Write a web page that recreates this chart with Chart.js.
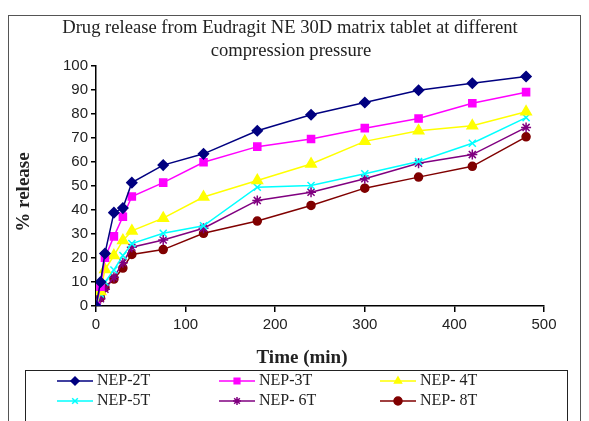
<!DOCTYPE html>
<html>
<head>
<meta charset="utf-8">
<script src="https://cdn.jsdelivr.net/npm/chart.js@4/dist/chart.umd.min.js"></script>
<style>
  html, body { margin: 0; padding: 0; background: #fff; }
  #wrap { width: 589px; height: 421px; position: relative; }
</style>
</head>
<body>
<div id="wrap"><canvas id="chart" width="589" height="421"></canvas></div>
<script>
// sampling times (min)
const times = [0, 5, 10, 20, 30, 40, 75, 120, 180, 240, 300, 360, 420, 480];

// % release per formulation
const nep2T = [0, 10, 21.9, 38.9, 40.8, 51.4, 58.7, 63.4, 73, 79.7, 84.8, 89.9, 92.8, 95.6];
const nep3T = [0, 8, 20.1, 29, 37.2, 45.6, 51.4, 59.9, 66.4, 69.6, 74.1, 78.1, 84.5, 89.1];
const nep4T = [0, 6, 15.2, 21, 27.3, 31.3, 36.6, 45.4, 52.3, 59.2, 68.6, 73, 75.1, 80.9];
const nep5T = [0, 5, 10, 15, 21, 26, 30.3, 33.4, 49.5, 50.2, 55.1, 60.2, 67.8, 78.5];
const nep6T = [0, 3, 7, 12, 18, 24.5, 27.5, 32.4, 44, 47.4, 53, 59.5, 63.1, 74.4];
const nep8T = [0, 3.5, 7.8, 11.2, 15.8, 21.5, 23.5, 30.3, 35.4, 41.9, 49.1, 53.7, 58.2, 70.5];

const seriesNames = ['NEP-2T', 'NEP-3T', 'NEP- 4T', 'NEP-5T', 'NEP- 6T', 'NEP- 8T'];
const yTicks = [0, 10, 20, 30, 40, 50, 60, 70, 80, 90, 100];
const xTicks = [0, 100, 200, 300, 400, 500];

const serif = '"Liberation Serif", "Times New Roman", serif';
const sans = '"Liberation Sans", Arial, sans-serif';

const styles = [
    { color: '#000080', point: 'rectRot', radius: 5 },
    { color: '#ff00ff', point: 'rect', radius: 5 },
    { color: '#ffff00', point: 'triangle', radius: 6 },
    { color: '#00ffff', point: 'crossRot', radius: 5 },
    { color: '#800080', point: 'star', radius: 5 },
    { color: '#800000', point: 'circle', radius: 4 },
];

const allSeries = [nep2T, nep3T, nep4T, nep5T, nep6T, nep8T];

const datasets = allSeries.map((values, i) => ({
    label: seriesNames[i],
    data: values.map((v, j) => ({ x: times[j], y: v })),
    borderColor: styles[i].color,
    backgroundColor: styles[i].color,
    borderWidth: 1.5,
    pointStyle: styles[i].point,
    pointRadius: styles[i].radius,
    pointBorderWidth: 1.5,
    tension: 0,
    fill: false,
}));

// frame, titles and legend drawn by hand
const decorPlugin = {
    id: 'decor',
    afterDraw(chart) {
        const ctx = chart.ctx;
        ctx.save();
        ctx.strokeStyle = '#555';
        ctx.lineWidth = 1;
        ctx.strokeRect(8.5, 15.5, 572, 420);

        ctx.fillStyle = '#222';
        ctx.font = '18.6px ' + serif;
        ctx.textAlign = 'center';
        ctx.textBaseline = 'middle';
        ctx.fillText('Drug release from Eudragit NE 30D matrix tablet at different', 290, 28);
        ctx.fillText('compression pressure', 291, 51);

        ctx.font = 'bold 19px ' + serif;
        ctx.fillText('Time (min)', 302, 358);

        ctx.save();
        ctx.translate(24, 192);
        ctx.rotate(-Math.PI / 2);
        ctx.fillText('% release', 0, 0);
        ctx.restore();

        ctx.strokeStyle = '#222';
        ctx.lineWidth = 1;
        ctx.strokeRect(25.5, 370.5, 542, 60);

        const colX = [57, 219, 380];
        const rowY = [381, 401];
        chart.data.datasets.forEach((ds, i) => {
            const x = colX[i % 3];
            const y = rowY[Math.floor(i / 3)];
            ctx.strokeStyle = ds.borderColor;
            ctx.fillStyle = ds.backgroundColor;
            ctx.lineWidth = 1.5;
            ctx.beginPath();
            ctx.moveTo(x, y);
            ctx.lineTo(x + 36, y);
            ctx.stroke();
            Chart.helpers.drawPoint(ctx, {
                pointStyle: ds.pointStyle,
                radius: 4,
                borderWidth: 1.5,
                rotation: 0,
            }, x + 18, y);
            ctx.fillStyle = '#222';
            ctx.font = '16px ' + serif;
            ctx.textAlign = 'left';
            ctx.fillText(ds.label, x + 40, y);
        });
        ctx.restore();
    },
};

new Chart(document.getElementById('chart'), {
    type: 'line',
    data: { datasets },
    plugins: [decorPlugin],
    options: {
        responsive: false,
        animation: false,
        layout: { padding: { left: 10, right: 45, top: 66, bottom: 55 } },
        plugins: {
            legend: { display: false },
            title: { display: false },
            tooltip: { enabled: false },
        },
        scales: {
            x: {
                type: 'linear',
                min: 0,
                max: 500,
                afterBuildTicks: (scale) => { scale.ticks = xTicks.map((v) => ({ value: v })); },
                afterFit: (scale) => { scale.height = 60; },
                border: { color: '#000', width: 1.5 },
                grid: { drawOnChartArea: false, color: '#000', tickLength: 6, lineWidth: 1.5 },
                ticks: { color: '#222', font: { family: sans, size: 15 }, padding: 4 },
            },
            y: {
                min: 0,
                max: 100,
                afterBuildTicks: (scale) => { scale.ticks = yTicks.map((v) => ({ value: v })); },
                afterFit: (scale) => { scale.width = 86; },
                border: { color: '#000', width: 1.5 },
                grid: { drawOnChartArea: false, color: '#000', tickLength: 5, lineWidth: 1.5 },
                ticks: { color: '#222', font: { family: sans, size: 15 }, padding: 3 },
            },
        },
    },
});
</script>
</body>
</html>
